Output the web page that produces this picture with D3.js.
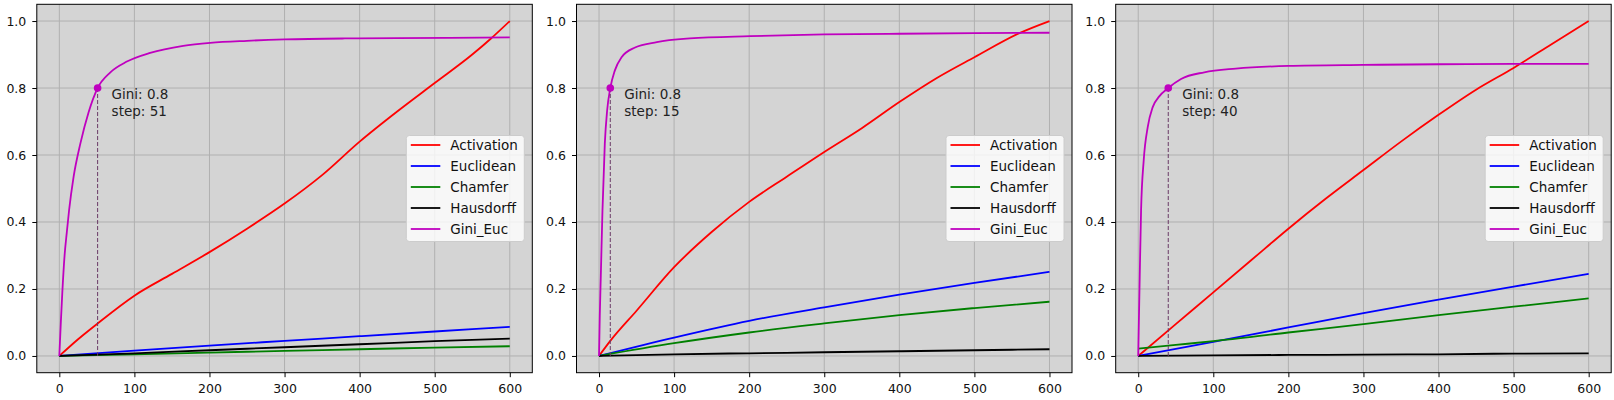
<!DOCTYPE html>
<html>
<head>
<meta charset="utf-8">
<script src="https://cdn.jsdelivr.net/npm/d3@7"></script>
<style>
  body { margin: 0; background: #fff; }
  text { font-family: "DejaVu Sans", sans-serif; }
</style>
</head>
<body>
<svg id="chart"></svg>
<script>
const width = 1614, height = 400;

const seriesNames = ["Activation", "Euclidean", "Chamfer", "Hausdorff", "Gini_Euc"];
const xTicks = [0, 100, 200, 300, 400, 500, 600];
const yTicks = [0, 0.2, 0.4, 0.6, 0.8, 1.0];

// steps shared by the near-linear distance curves
const linSteps = [0, 100, 200, 300, 400, 500, 600];

// panel 1
const p1ActSteps = [0, 25, 51, 100, 150, 200, 250, 300, 350, 400, 450, 500, 550, 575, 600];
const p1Act = [0, 0.05, 0.097, 0.18, 0.245, 0.31, 0.38, 0.455, 0.54, 0.64, 0.73, 0.815, 0.9, 0.948, 1.0];
const p1Euc = [0, 0.016, 0.031, 0.045, 0.059, 0.073, 0.087];
const p1Cham = [0, 0.005, 0.01, 0.015, 0.02, 0.025, 0.029];
const p1Haus = [0, 0.008, 0.017, 0.026, 0.035, 0.044, 0.052];
const p1GiniSteps = [0, 2, 4, 7, 10, 13, 19, 28, 39, 51, 68, 90, 121, 165, 201, 250, 300, 380, 450, 520, 600];
const p1Gini = [0, 0.1, 0.19, 0.3, 0.37, 0.435, 0.535, 0.634, 0.728, 0.8, 0.847, 0.879, 0.905, 0.926, 0.935, 0.941, 0.945, 0.948, 0.949, 0.95, 0.951];

// panel 2
const p2ActSteps = [0, 15, 50, 100, 150, 200, 250, 300, 350, 400, 450, 500, 560, 600];
const p2Act = [0, 0.045, 0.135, 0.265, 0.37, 0.46, 0.535, 0.609, 0.68, 0.758, 0.83, 0.892, 0.964, 1.0];
const p2Euc = [0, 0.055, 0.105, 0.145, 0.183, 0.218, 0.251];
const p2Cham = [0, 0.038, 0.07, 0.097, 0.122, 0.143, 0.162];
const p2Haus = [0, 0.005, 0.008, 0.011, 0.014, 0.017, 0.02];
const p2GiniSteps = [0, 1, 2.4, 4.6, 7.7, 10.8, 15, 21, 30, 48, 77, 121, 201, 300, 400, 500, 600];
const p2Gini = [0, 0.12, 0.24, 0.435, 0.634, 0.733, 0.8, 0.852, 0.892, 0.921, 0.937, 0.948, 0.955, 0.96, 0.962, 0.964, 0.965];

// panel 3
const p3ActSteps = [0, 50, 100, 150, 200, 250, 300, 350, 400, 450, 500, 550, 600];
const p3Act = [0, 0.095, 0.19, 0.285, 0.38, 0.47, 0.555, 0.64, 0.72, 0.795, 0.86, 0.93, 1.0];
const p3Euc = [0, 0.042, 0.085, 0.128, 0.168, 0.207, 0.245];
const p3ChamSteps = [0, 50, 100, 200, 300, 400, 500, 600];
const p3Cham = [0.022, 0.033, 0.044, 0.07, 0.095, 0.122, 0.147, 0.172];
const p3Haus = [0, 0.002, 0.003, 0.004, 0.005, 0.007, 0.008];
const p3GiniSteps = [0, 1, 2, 3.8, 7.3, 12.7, 19.3, 28, 40, 57, 88, 130, 200, 300, 400, 500, 600];
const p3Gini = [0, 0.12, 0.237, 0.435, 0.584, 0.684, 0.743, 0.775, 0.8, 0.827, 0.847, 0.858, 0.866, 0.869, 0.871, 0.872, 0.872];

// Gini threshold markers
const markSteps = [51, 15, 40];
const markGini = [0.8, 0.8, 0.8];

const colors = ["#ff0000", "#0000ff", "#008000", "#000000", "#bf00bf"];

const zip = (xs, ys) => xs.map((x, i) => [x, ys[i]]);

const panels = [
  [zip(p1ActSteps, p1Act), zip(linSteps, p1Euc), zip(linSteps, p1Cham), zip(linSteps, p1Haus), zip(p1GiniSteps, p1Gini)],
  [zip(p2ActSteps, p2Act), zip(linSteps, p2Euc), zip(linSteps, p2Cham), zip(linSteps, p2Haus), zip(p2GiniSteps, p2Gini)],
  [zip(p3ActSteps, p3Act), zip(linSteps, p3Euc), zip(p3ChamSteps, p3Cham), zip(linSteps, p3Haus), zip(p3GiniSteps, p3Gini)]
];

const panelLeft = [36.8, 576.5, 1115.7];
const panelW = 495.5, panelTop = 4.3, panelH = 368.4;

const svg = d3.select("#chart").attr("width", width).attr("height", height);

panels.forEach((series, pi) => {
  const g = svg.append("g").attr("transform", `translate(${panelLeft[pi]},${panelTop})`);

  const x = d3.scaleLinear().domain([-30, 630]).range([0, panelW]);
  const y = d3.scaleLinear().domain([-0.05, 1.05]).range([panelH, 0]);

  g.append("rect").attr("width", panelW).attr("height", panelH).attr("fill", "#d4d4d4");

  // grid
  g.append("g").selectAll("line").data(xTicks).enter().append("line")
    .attr("x1", d => x(d)).attr("x2", d => x(d))
    .attr("y1", 0).attr("y2", panelH)
    .attr("stroke", "#b0b0b0").attr("stroke-width", 1);
  g.append("g").selectAll("line").data(yTicks).enter().append("line")
    .attr("y1", d => y(d)).attr("y2", d => y(d))
    .attr("x1", 0).attr("x2", panelW)
    .attr("stroke", "#b0b0b0").attr("stroke-width", 1);

  const line = d3.line()
    .x(d => x(d[0]))
    .y(d => y(d[1]))
    .curve(d3.curveMonotoneX);

  series.forEach((pts, si) => {
    g.append("path")
      .datum(pts)
      .attr("fill", "none")
      .attr("stroke", colors[si])
      .attr("stroke-width", 1.8)
      .attr("stroke-linejoin", "round")
      .attr("d", line);
  });

  // threshold marker
  const ms = markSteps[pi], mg = markGini[pi];
  g.append("line")
    .attr("x1", x(ms)).attr("x2", x(ms))
    .attr("y1", y(mg)).attr("y2", y(0))
    .attr("stroke", "#6a3a66").attr("stroke-width", 1)
    .attr("stroke-dasharray", "4,2");
  g.append("circle")
    .attr("cx", x(ms)).attr("cy", y(mg)).attr("r", 3.8)
    .attr("fill", colors[4]);
  const ann = g.append("text")
    .attr("x", x(ms) + 14).attr("y", y(mg) + 11)
    .attr("font-size", 13.5).attr("fill", "#222");
  ann.append("tspan").attr("x", x(ms) + 14).text(`Gini: ${mg}`);
  ann.append("tspan").attr("x", x(ms) + 14).attr("dy", 17).text(`step: ${ms}`);

  // legend
  const lw = 118, lh = 106;
  const lx = panelW - 8 - lw, ly = panelH / 2 - lh / 2;
  const leg = g.append("g").attr("transform", `translate(${lx},${ly})`);
  leg.append("rect").attr("width", lw).attr("height", lh).attr("rx", 3)
    .attr("fill", "#fff").attr("fill-opacity", 0.8)
    .attr("stroke", "#cccccc").attr("stroke-width", 1);
  seriesNames.forEach((name, si) => {
    const ry = 9.5 + si * 21;
    leg.append("line").attr("x1", 4.5).attr("x2", 34).attr("y1", ry).attr("y2", ry)
      .attr("stroke", colors[si]).attr("stroke-width", 1.8);
    leg.append("text").attr("x", 44).attr("y", ry).attr("dy", "0.36em")
      .attr("font-size", 13.5).attr("fill", "#111").text(name);
  });

  // frame
  g.append("rect").attr("width", panelW).attr("height", panelH)
    .attr("fill", "none").attr("stroke", "#000").attr("stroke-width", 1);

  // axes
  const xAxis = g.append("g").attr("transform", `translate(0,${panelH})`)
    .call(d3.axisBottom(x).tickValues(xTicks).tickSize(4.5).tickPadding(7).tickFormat(d3.format("d")));
  const yAxis = g.append("g")
    .call(d3.axisLeft(y).tickValues(yTicks).tickSize(4.5).tickPadding(6).tickFormat(d3.format(".1f")));
  [xAxis, yAxis].forEach(a => {
    a.select(".domain").remove();
    a.selectAll("text").attr("font-size", 12.5).attr("font-family", "DejaVu Sans").attr("fill", "#111");
    a.selectAll("line").attr("stroke", "#000");
  });
});
</script>
</body>
</html>
